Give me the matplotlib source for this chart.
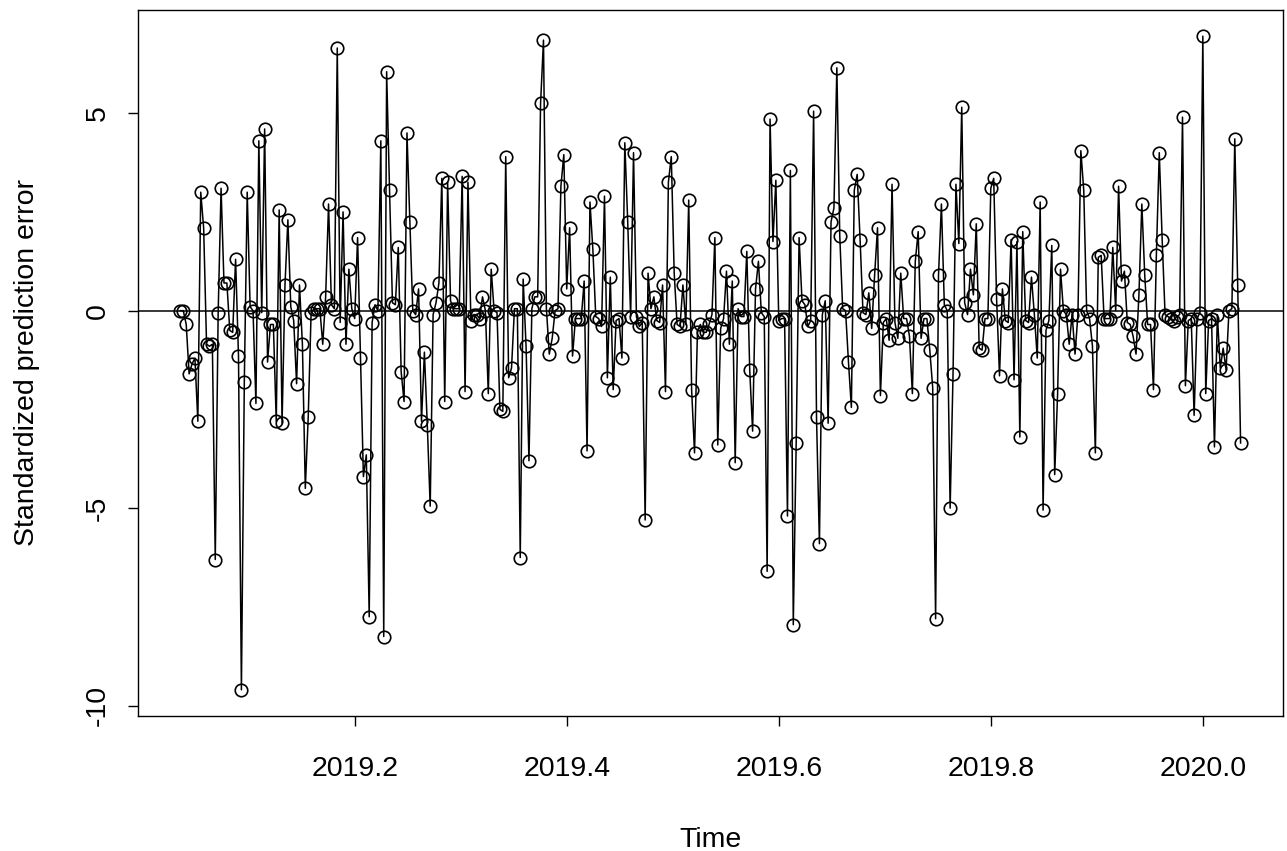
import numpy as np
import matplotlib
matplotlib.use("Agg")
from matplotlib import pyplot as plt

# standardized prediction errors, daily
start_year = 2019
start_day = 13
freq = 365

errors = [
    0.0, 0.0, -0.35, -1.6, -1.35, -1.2, -2.8, 3.0, 2.1, -0.85,
    -0.9, -0.85, -6.3, -0.05, 3.1, 0.7, 0.7, -0.5, -0.55, 1.3,
    -1.15, -9.6, -1.8, 3.0, 0.1, 0.0, -2.35, 4.3, -0.05, 4.6,
    -1.3, -0.35, -0.35, -2.8, 2.55, -2.85, 0.65, 2.3, 0.1, -0.25,
    -1.85, 0.65, -0.85, -4.5, -2.7, -0.05, 0.05, 0.05, 0.05, -0.85,
    0.35, 2.7, 0.15, 0.05, 6.65, -0.3, 2.5, -0.85, 1.05, 0.05,
    -0.2, 1.85, -1.2, -4.2, -3.65, -7.75, -0.3, 0.15, 0.0, 4.3,
    -8.25, 6.05, 3.05, 0.2, 0.15, 1.6, -1.55, -2.3, 4.5, 2.25,
    0.0, -0.1, 0.55, -2.8, -1.05, -2.9, -4.95, -0.1, 0.2, 0.7,
    3.35, -2.3, 3.25, 0.25, 0.05, 0.05, 0.05, 3.4, -2.05, 3.25,
    -0.25, -0.1, -0.1, -0.2, 0.35, 0.0, -2.1, 1.05, 0.0, -0.05,
    -2.5, -2.55, 3.9, -1.7, -1.45, 0.05, 0.05, -6.25, 0.8, -0.9,
    -3.8, 0.05, 0.35, 0.35, 5.25, 6.85, 0.05, -1.1, -0.7, 0.0,
    0.05, 3.15, 3.95, 0.55, 2.1, -1.15, -0.2, -0.2, -0.2, 0.75,
    -3.55, 2.75, 1.55, -0.15, -0.2, -0.4, 2.9, -1.7, 0.85, -2.0,
    -0.25, -0.2, -1.2, 4.25, 2.25, -0.15, 4.0, -0.15, -0.4, -0.3,
    -5.3, 0.95, 0.05, 0.35, -0.25, -0.3, 0.65, -2.05, 3.25, 3.9,
    0.95, -0.35, -0.4, 0.65, -0.35, 2.8, -2.0, -3.6, -0.55, -0.35,
    -0.55, -0.55, -0.35, -0.1, 1.85, -3.4, -0.45, -0.2, 1.0, -0.85,
    0.75, -3.85, 0.05, -0.15, -0.15, 1.5, -1.5, -3.05, 0.55, 1.25,
    -0.05, -0.15, -6.6, 4.85, 1.75, 3.3, -0.25, -0.2, -0.2, -5.2,
    3.55, -7.95, -3.35, 1.85, 0.25, 0.15, -0.4, -0.25, 5.05, -2.7,
    -5.9, -0.1, 0.25, -2.85, 2.25, 2.6, 6.15, 1.9, 0.05, 0.0,
    -1.3, -2.45, 3.05, 3.45, 1.8, -0.05, -0.1, 0.45, -0.45, 0.9,
    2.1, -2.15, -0.3, -0.2, -0.75, 3.2, -0.3, -0.7, 0.95, -0.2,
    -0.2, -0.65, -2.1, 1.25, 2.0, -0.7, -0.2, -0.2, -1.0, -1.95,
    -7.8, 0.9, 2.7, 0.15, 0.0, -5.0, -1.6, 3.2, 1.7, 5.15,
    0.2, -0.1, 1.05, 0.4, 2.2, -0.95, -1.0, -0.2, -0.2, 3.1,
    3.35, 0.3, -1.65, 0.55, -0.25, -0.3, 1.8, -1.75, 1.75, -3.2,
    2.0, -0.25, -0.3, 0.85, -0.1, -1.2, 2.75, -5.05, -0.5, -0.25,
    1.65, -4.15, -2.1, 1.05, 0.0, -0.1, -0.85, -0.1, -1.1, -0.1,
    4.05, 3.05, 0.0, -0.2, -0.9, -3.6, 1.35, 1.4, -0.2, -0.2,
    -0.2, 1.6, 0.0, 3.15, 0.75, 1.0, -0.3, -0.35, -0.65, -1.1,
    0.4, 2.7, 0.9, -0.35, -0.35, -2.0, 1.4, 4.0, 1.8, -0.1,
    -0.15, -0.2, -0.25, -0.15, -0.1, 4.9, -1.9, -0.25, -0.2, -2.65,
    -0.2, -0.05, 6.95, -2.1, -0.25, -0.2, -3.45, -0.1, -1.45, -0.95,
    -1.5, 0.0, 0.05, 4.35, 0.65, -3.35,
]

x_ticks = [2019.2, 2019.4, 2019.6, 2019.8, 2020.0]
x_tick_labels = ["2019.2", "2019.4", "2019.6", "2019.8", "2020.0"]
y_ticks = [-10, -5, 0, 5]
y_tick_labels = ["-10", "-5", "0", "5"]

errors = np.asarray(errors)
t = start_year + (start_day + np.arange(len(errors))) / freq

plt.rcParams['font.family'] = ['Liberation Sans', 'DejaVu Sans']

fig = plt.figure(figsize=(12.87, 8.51), dpi=100)
ax = fig.add_axes([138 / 1287, 135 / 851, 1145 / 1287, 706 / 851])

ax.plot(t, errors, color='black', linewidth=1.1, marker='o', markersize=9,
        markerfacecolor='none', markeredgecolor='black', markeredgewidth=1.2)
ax.axhline(0, color='black', linewidth=1.1)

# R style 4% padding on both axes
xr = t[-1] - t[0]
yr = errors.max() - errors.min()
ax.set_xlim(t[0] - 0.04 * xr, t[-1] + 0.04 * xr)
ax.set_ylim(errors.min() - 0.04 * yr, errors.max() + 0.04 * yr)

ax.set_xticks(x_ticks)
ax.set_xticklabels(x_tick_labels)
ax.set_yticks(y_ticks)
ax.set_yticklabels(y_tick_labels, rotation=90, va='center')

ax.tick_params(axis='both', direction='out', length=7.5, width=1.0,
               labelsize=20.5, colors='black')
ax.tick_params(axis='x', pad=21.5)
ax.tick_params(axis='y', pad=12)
for s in ax.spines.values():
    s.set_linewidth(1.0)
    s.set_color('black')

ax.set_xlabel("Time", fontsize=20.5, labelpad=32)
ax.set_ylabel("Standardized prediction error", fontsize=20.5, labelpad=32)

fig.savefig("out.png", dpi=100)
